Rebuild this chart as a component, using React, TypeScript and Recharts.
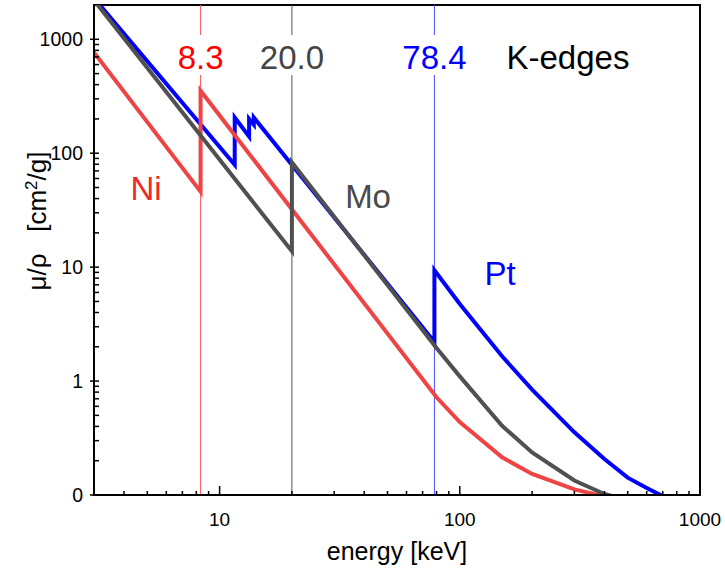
import React from 'react';
import { LineChart, Line, XAxis, YAxis, ReferenceLine, ReferenceArea, ReferenceDot, Label } from 'recharts';

// mass attenuation μ/ρ [cm²/g] against photon energy [keV]; edges appear as repeated energies
const niEnergy = [3, 8.333, 8.333, 80, 100, 150, 200, 300, 400];
const niMu = [767, 46, 354, 0.72, 0.436, 0.214, 0.153, 0.112, 0.097];

const moEnergy = [3, 20, 20, 80, 100, 150, 200, 300, 400, 500];
const moMu = [2200, 13.8, 83, 1.95, 1.1, 0.405, 0.236, 0.134, 0.102, 0.09];

const ptEnergy = [3, 11.56, 11.56, 13.27, 13.27, 13.88, 13.88, 78.4, 78.4, 100, 150, 200, 300, 400, 500, 600, 800];
const ptMu = [2300, 79, 206, 140, 200, 178, 206, 2.2, 9.4, 4.75, 1.65, 0.84, 0.355, 0.207, 0.142, 0.115, 0.085];

const edgeEnergies = [8.333, 20.0, 78.4];
const edgeLabels = ['8.3', '20.0', '78.4'];

const xMajorTicks = [10, 100, 1000];
const xMinorTicks = [4, 5, 6, 7, 8, 9, 20, 30, 40, 50, 60, 70, 80, 90, 200, 300, 400, 500, 600, 700, 800, 900];
const yMajorTicks = [0.1, 1, 10, 100, 1000];
const yMinorTicks = [0.2, 0.3, 0.4, 0.5, 0.6, 0.7, 0.8, 0.9, 2, 3, 4, 5, 6, 7, 8, 9, 20, 30, 40, 50, 60, 70, 80, 90, 200, 300, 400, 500, 600, 700, 800, 900];
const yTickLabels = ['0', '1', '10', '100', '1000'];

const toPoints = (es: number[], mus: number[]) => es.map((e, i) => ({ e, mu: mus[i] }));
const niData = toPoints(niEnergy, niMu);
const moData = toPoints(moEnergy, moMu);
const ptData = toPoints(ptEnergy, ptMu);

const NI = '#ef4444';
const MO = '#505050';
const PT = '#0000ff';
const edgeLineColors = ['#ff5a5a', '#555555', '#4a4aff'];
const edgeTextColors = ['#ff0000', '#444444', '#0000ff'];

const FONT = '"Liberation Sans", Arial, Helvetica, sans-serif';

const XTick = (props: any) => {
  const { x, y, payload } = props;
  const v = payload.value;
  const major = xMajorTicks.includes(v);
  return (
    <g>
      <line x1={x} y1={y} x2={x} y2={y - (major ? 9 : 4)} stroke="#000" strokeWidth={1.5} />
      {major && (
        <text x={x} y={y + 31} textAnchor="middle" fontSize={19} fill="#000" fontFamily={FONT}>{v}</text>
      )}
    </g>
  );
};

const YTick = (props: any) => {
  const { x, y, payload } = props;
  const v = payload.value;
  const idx = yMajorTicks.indexOf(v);
  const major = idx >= 0;
  return (
    <g>
      <line x1={major ? x - 4 : x} y1={y} x2={x + 5} y2={y} stroke="#000" strokeWidth={1.5} />
      {major && (
        <text x={x - 11} y={y + 7} textAnchor="end" fontSize={19.5} fill="#000" fontFamily={FONT}>{yTickLabels[idx]}</text>
      )}
    </g>
  );
};

const edgeLabel = (i: number) => (props: any) => {
  const { viewBox } = props;
  const x = viewBox.x;
  const top = Math.min(viewBox.y, viewBox.y + viewBox.height);
  return (
    <g>
      <rect x={x - 3} y={top + 30} width={6} height={40} fill="#fff" />
      <text x={x} y={top + 64} textAnchor="middle" fontSize={33} fill={edgeTextColors[i]} fontFamily={FONT}>
        {edgeLabels[i]}
      </text>
    </g>
  );
};

const notes = [
  { text: 'Ni', e: 4.94, mu: 49.5, color: '#f02828' },
  { text: 'Mo', e: 41.5, mu: 42, color: '#4a4a4a' },
  { text: 'Pt', e: 147, mu: 8.9, color: '#0000ff' },
  { text: 'K-edges', e: 282, mu: 699, color: '#000000' },
];

const noteLabel = (text: string, color: string) => (props: any) => {
  const { viewBox } = props;
  const cx = viewBox.x + viewBox.width / 2;
  const cy = viewBox.y + viewBox.height / 2;
  return (
    <text x={cx} y={cy + 12} textAnchor="middle" fontSize={33} fill={color} fontFamily={FONT}>{text}</text>
  );
};

export default function App() {
  return (
    <div style={{ position: 'absolute', left: 0, top: 0, width: 725, height: 572, background: '#fff', fontFamily: FONT }}>
      <LineChart width={725} height={572} margin={{ top: 5, right: 25, bottom: 0, left: 0 }}>
        <XAxis
          dataKey="e"
          type="number"
          scale="log"
          domain={[3, 1000]}
          allowDataOverflow
          ticks={[...xMinorTicks, ...xMajorTicks]}
          interval={0}
          tickSize={0}
          tickMargin={0}
          tickLine={false}
          tick={<XTick />}
          axisLine={{ stroke: '#000', strokeWidth: 2 }}
          height={77}
        >
          <Label
            content={(p: any) => {
              const vb = p.viewBox;
              return (
                <text x={vb.x + vb.width / 2} y={vb.y + 65} textAnchor="middle" fontSize={25} fill="#000" fontFamily={FONT}>
                  energy [keV]
                </text>
              );
            }}
          />
        </XAxis>
        <YAxis
          dataKey="mu"
          type="number"
          scale="log"
          domain={[0.1, 2000]}
          allowDataOverflow
          ticks={[...yMinorTicks, ...yMajorTicks]}
          interval={0}
          tickSize={0}
          tickMargin={0}
          tickLine={false}
          tick={<YTick />}
          axisLine={{ stroke: '#000', strokeWidth: 2 }}
          width={94}
        >
          <Label
            content={() => (
              <text x={46} y={221} transform="rotate(-90 46 221)" textAnchor="middle" fontSize={26} fill="#000" fontFamily={FONT}>
                {'μ/ρ\u00A0\u00A0\u00A0[cm'}
                <tspan dy={-9} fontSize={17}>2</tspan>
                <tspan dy={9}>/g]</tspan>
              </text>
            )}
          />
        </YAxis>
        <ReferenceArea x1={3} x2={1000} y1={0.1} y2={2000} fill="none" fillOpacity={0} stroke="#000" strokeWidth={2} />
        {edgeEnergies.map((e, i) => (
          <ReferenceLine key={e} x={e} stroke={edgeLineColors[i]} strokeWidth={1} label={edgeLabel(i)} />
        ))}
        {notes.map((n) => (
          <ReferenceDot key={n.text} x={n.e} y={n.mu} r={0} fill="none" stroke="none" label={noteLabel(n.text, n.color)} />
        ))}
        <Line data={ptData} dataKey="mu" type="linear" stroke={PT} strokeWidth={4} dot={false} isAnimationActive={false} />
        <Line data={niData} dataKey="mu" type="linear" stroke={NI} strokeWidth={4} dot={false} isAnimationActive={false} />
        <Line data={moData} dataKey="mu" type="linear" stroke={MO} strokeWidth={4} dot={false} isAnimationActive={false} />
      </LineChart>
    </div>
  );
}
